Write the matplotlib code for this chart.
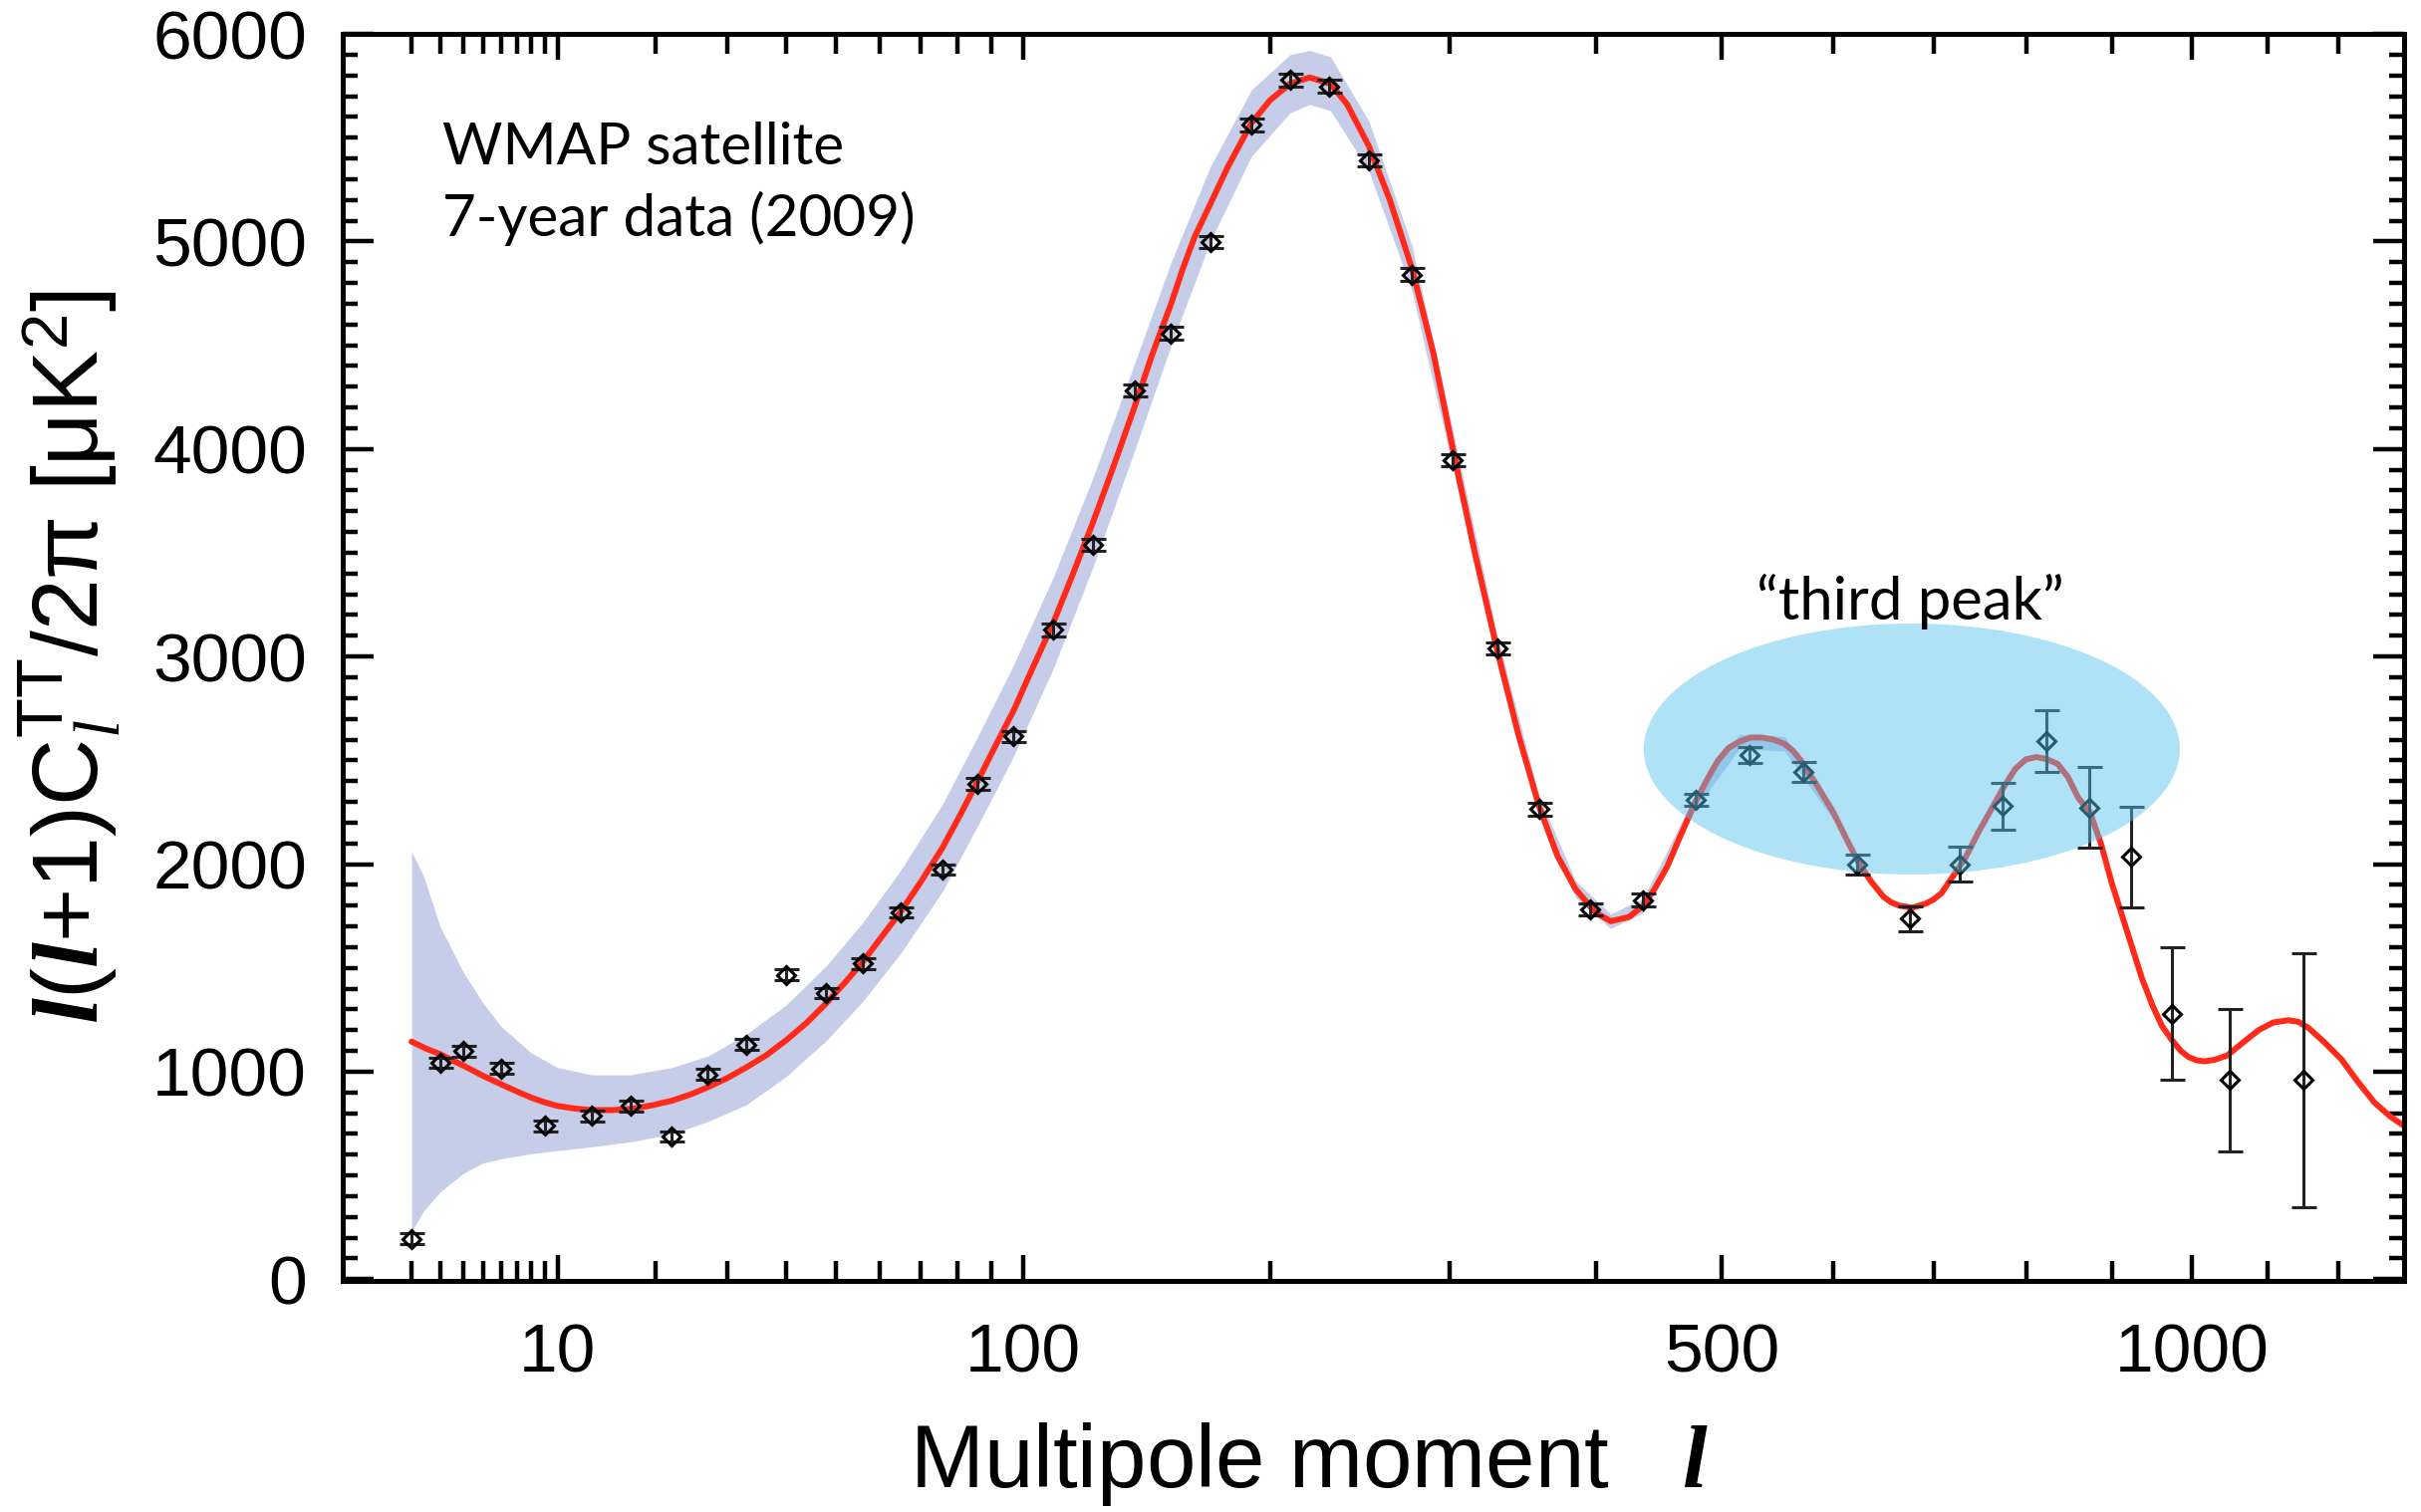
import numpy as np
import matplotlib
matplotlib.use("Agg")
import matplotlib.pyplot as plt
from matplotlib.patches import Ellipse
from matplotlib.ticker import NullFormatter

plt.rcParams['font.family'] = ['Liberation Sans', 'DejaVu Sans']
plt.rcParams['mathtext.fontset'] = 'custom'
plt.rcParams['mathtext.rm'] = 'Liberation Sans'
plt.rcParams['mathtext.it'] = 'Liberation Serif:style=italic:weight=bold'
plt.rcParams['mathtext.sf'] = 'Liberation Serif:style=italic'

# binned TT spectrum, l(l+1)C_l/2pi in uK^2
data_l = [2, 3, 4, 6, 9, 13, 17, 22, 27, 33, 40, 48, 56, 65, 76, 86, 97, 110,
          124, 140, 155, 172, 191, 210, 230, 252, 277, 302, 331, 359, 396, 436,
          478, 524, 572, 623, 676, 727, 774, 823, 873, 923, 975, 1049, 1150]
data_cl = [195, 1043, 1099, 1016, 739, 787, 835, 688, 987, 1131, 1467, 1380,
           1521, 1767, 1975, 2385, 2615, 3129, 3538, 4282, 4557, 4996, 5562,
           5778, 5748, 5391, 4840, 3947, 3039, 2265, 1781, 1826, 2310, 2526,
           2444, 1998, 1737, 1998, 2280, 2593, 2273, 2035, 1280, 960, 960]
data_err = [25, 25, 25, 25, 25, 25, 25, 25, 25, 25, 25, 25, 25, 25, 25, 28,
            28, 30, 30, 30, 30, 30, 30, 30, 30, 30, 30, 30, 30, 30, 30, 32,
            29, 38, 46, 48, 59, 84, 112, 149, 194, 243, 320, 342, 613]

# best-fit model curve
model_l = [2, 2.5, 3, 3.5, 4, 5, 6, 7, 8, 9, 10, 11.5, 13, 15, 17, 19.5, 22,
           24.5, 27, 30, 33, 36.5, 40, 44, 48, 52, 56, 60, 65, 70, 76, 81, 86,
           91, 97, 103, 110, 117, 124, 132, 140, 147, 155, 160, 165, 172, 180,
           191, 200, 210, 220, 231, 240, 252, 264, 277, 290, 302, 316, 331,
           345, 359, 372, 385, 400, 411, 425, 436, 445, 455, 466, 478, 488,
           497, 506, 515, 525, 535, 545, 555, 563, 570, 585, 601, 613, 625,
           637, 649, 657, 665, 678, 692, 700, 708, 720, 734, 747, 761, 775,
           788, 800, 812, 824, 836, 848, 860, 874, 887, 900, 912, 925, 937,
           950, 962, 975, 986, 996, 1006, 1017, 1030, 1046, 1067, 1088, 1108,
           1129, 1143, 1157, 1180, 1204, 1228, 1252, 1275, 1296]
model_cl = [1145, 1110, 1085, 1055, 1030, 980, 940, 905, 875, 852, 835, 822,
            815, 815, 820, 838, 860, 890, 925, 970, 1020, 1080, 1150, 1235,
            1330, 1430, 1530, 1640, 1770, 1910, 2080, 2240, 2400, 2560, 2740,
            2940, 3160, 3400, 3640, 3920, 4200, 4450, 4700, 4870, 5020, 5180,
            5360, 5570, 5680, 5760, 5790, 5760, 5660, 5460, 5200, 4870, 4460,
            4000, 3500, 3020, 2620, 2280, 2040, 1880, 1765, 1725, 1745, 1800,
            1880, 1987, 2140, 2300, 2410, 2500, 2560, 2590, 2610, 2610, 2600,
            2580, 2545, 2500, 2380, 2243, 2120, 2003, 1915, 1843, 1815, 1800,
            1790, 1810, 1830, 1859, 1940, 2035, 2150, 2260, 2370, 2459, 2505,
            2516, 2505, 2483, 2420, 2320, 2250, 2100, 1910, 1760, 1600, 1450,
            1320, 1220, 1150, 1100, 1070, 1055, 1050, 1058, 1078, 1140, 1200,
            1237, 1248, 1240, 1211, 1140, 1059, 950, 851, 785, 739]

# cosmic variance band around the model
band_l = [2, 2.4, 3, 4, 5, 6, 8, 10, 13, 17, 22, 27, 33, 40, 48, 56, 65, 76,
          86, 97, 110, 124, 140, 155, 172, 191, 210, 220, 231, 252, 277, 302,
          331, 359, 385, 411, 436, 478, 515, 555, 601]
band_lo = [230, 330, 420, 510, 560, 580, 605, 620, 638, 662, 700, 760, 840,
           975, 1150, 1340, 1570, 1870, 2185, 2520, 2940, 3425, 3990, 4500,
           5000, 5410, 5620, 5660, 5630, 5340, 4760, 3910, 2950, 2230, 1840,
           1690, 1765, 2265, 2555, 2545, 2210]
band_hi = [2060, 1940, 1700, 1480, 1330, 1220, 1090, 1020, 985, 985, 1020,
           1075, 1180, 1320, 1510, 1720, 1970, 2290, 2615, 2960, 3380, 3855,
           4410, 4900, 5360, 5730, 5900, 5920, 5890, 5580, 4980, 4090, 3090,
           2330, 1920, 1760, 1835, 2335, 2625, 2615, 2276]

major_l = [10, 100, 500, 1000]
minor_l = [2, 3, 4, 5, 6, 7, 8, 9, 20, 30, 40, 50, 60, 70, 80, 90,
           200, 300, 400, 600, 700, 800, 900, 1100, 1200]


def fwd(l):
    l = np.asarray(l, dtype=float)
    return np.sign(l) * np.abs(l) ** 0.4


def inv(x):
    x = np.asarray(x, dtype=float)
    return np.sign(x) * np.abs(x) ** 2.5


fig = plt.figure(figsize=(24.3, 15.18), dpi=100)
ax = fig.add_axes([344 / 2430, 232 / 1518, 2069 / 2430, 1252 / 1518])
ax.set_xscale('function', functions=(fwd, inv))

ax.fill_between(band_l, band_lo, band_hi, color='#C5CDE8', lw=0, zorder=1)
ax.plot(model_l, model_cl, color='#FF2A1A', lw=4.3, zorder=2,
        solid_capstyle='round', solid_joinstyle='round')
ax.errorbar(data_l, data_cl, yerr=data_err, fmt='D', ms=9, mfc='none',
            mec='black', mew=2.2, ecolor='#222222', elinewidth=2.2,
            capsize=9, capthick=2.2, zorder=3)

ax.add_patch(Ellipse((0.7612, 0.4265), 0.260, 0.2013, transform=ax.transAxes,
                     facecolor='#56C2ED', alpha=0.47, lw=0, zorder=4))

ax.set_xlim(0.5, 1296)
ax.set_ylim(-8, 6000)

ax.set_xticks(major_l)
ax.set_xticklabels([str(v) for v in major_l])
ax.set_xticks(minor_l, minor=True)
ax.xaxis.set_minor_formatter(NullFormatter())
ax.set_yticks(np.arange(0, 6001, 1000))
ax.set_yticks(np.arange(0, 6001, 100), minor=True)

ax.tick_params(axis='both', which='both', direction='in', top=True,
               right=True, width=3.2, colors='black', labelsize=50)
ax.tick_params(axis='x', which='major', length=19, pad=30)
ax.tick_params(axis='x', which='minor', length=14.5)
ax.tick_params(axis='y', which='major', length=22, pad=26)
ax.tick_params(axis='y', which='minor', length=11)
for s in ax.spines.values():
    s.set_linewidth(3.6)

ax.set_xlabel(r'Multipole moment   $\mathit{l}$', fontsize=64)
ax.xaxis.set_label_coords(0.469, -0.112)
ax.set_ylabel(r'$\mathit{l}\mathrm{(}\mathit{l}\mathrm{+1)C}_{\mathsf{l}}'
              r'^{\mathrm{TT}}\mathrm{/2π\ [μK}^{\mathrm{2}}\mathrm{]}$',
              fontsize=67)
ax.yaxis.set_label_coords(-0.107, 0.5)

ax.text(0.0483, 0.8954, 'WMAP satellite', transform=ax.transAxes,
        fontsize=42, family='Lato', va='baseline', ha='left', zorder=5)
ax.text(0.0483, 0.8379, '7-year data (2009)', transform=ax.transAxes,
        fontsize=42, family='Lato', va='baseline', ha='left', zorder=5)
ax.text(0.7603, 0.5304, '\u201cthird peak\u201d', transform=ax.transAxes,
        fontsize=43, family='Lato', va='baseline', ha='center', zorder=5)

fig.savefig('out.png', dpi=100)
